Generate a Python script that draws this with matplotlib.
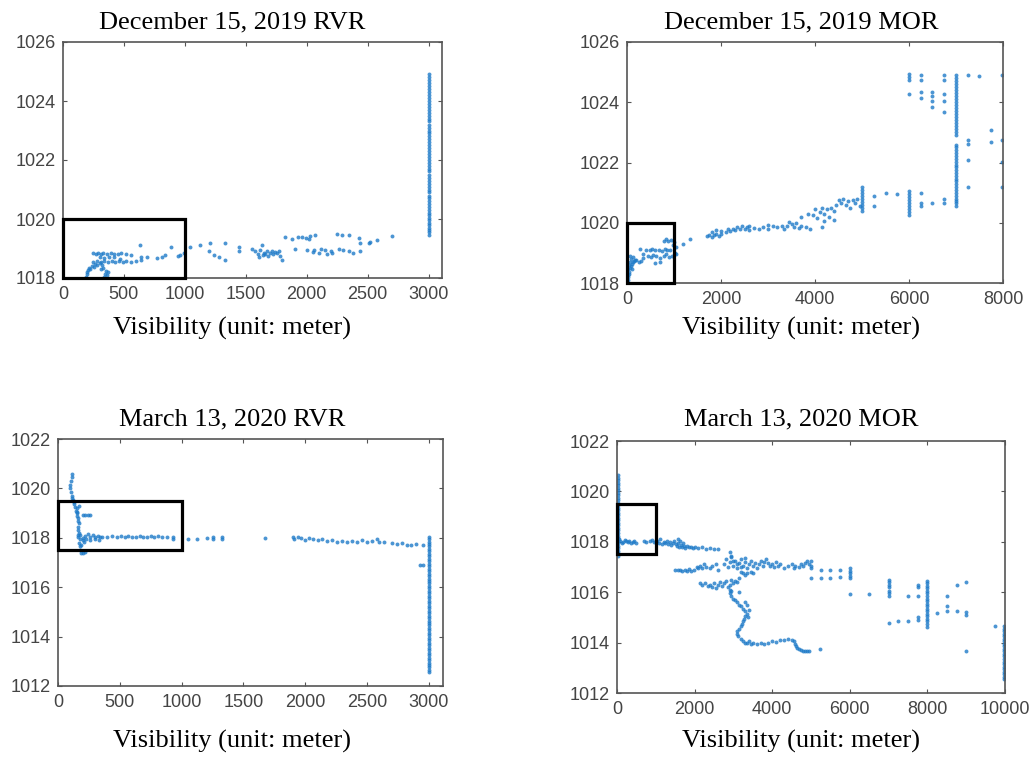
"""
 Pressure vs visibility scatter, RVR and MOR for two fog days
"""
import numpy as np
import matplotlib
matplotlib.use('Agg')
import matplotlib.pyplot as plt
from matplotlib.patches import Rectangle

# ---------------- data ----------------
# December 15, 2019 RVR
dec_rvr_x = [190, 195, 200, 205, 215, 225, 240, 255, 265, 280, 300, 320, 340, 345, 350, 360, 370, 330, 310,
             250, 280, 310, 340, 370, 400, 430, 460, 490, 520, 560, 600, 640,
             250, 270, 290, 310, 330, 360, 390, 420, 450, 480, 520, 560,
             300, 340, 380, 420, 470,
             633, 640, 688, 770, 810, 838, 888, 940, 962, 990, 1044, 1126, 1195, 1208, 1240, 1277, 1332, 1332,
             1441, 1441, 1551, 1578, 1605, 1633, 1650, 1674, 1700, 1715, 1740, 1770, 1797, 1825, 1880, 1907,
             1962, 2016, 2071, 2058, 2099, 2153, 2170, 2208, 2249, 2290, 2345, 2263, 2345, 2427, 2441, 2441,
             2510, 2523, 2578, 2701,
             1600, 1620, 1640, 1660, 1680, 1720, 1760, 1780,
             1930, 1990, 2030, 2000, 2050, 2120, 2200, 2300, 2380]
dec_rvr_y = [1018.05, 1018.12, 1018.2, 1018.28, 1018.35, 1018.3, 1018.42, 1018.38, 1018.48, 1018.45, 1018.5,
             1018.45, 1018.05, 1018.15, 1018.25, 1018.1, 1018.2, 1018.35, 1018.3,
             1018.55, 1018.58, 1018.55, 1018.57, 1018.55, 1018.56, 1018.55, 1018.57, 1018.55, 1018.56, 1018.55,
             1018.58, 1018.6,
             1018.85, 1018.82, 1018.86, 1018.8, 1018.84, 1018.82, 1018.86, 1018.8, 1018.83, 1018.85, 1018.8,
             1018.78,
             1018.7, 1018.68, 1018.72, 1018.7, 1018.66,
             1019.12, 1018.72, 1018.72, 1018.67, 1018.7, 1018.78, 1019.04, 1018.74, 1018.78, 1018.85, 1019.04,
             1019.12, 1018.9, 1019.17, 1018.78, 1018.72, 1019.17, 1018.6,
             1019.06, 1018.9, 1019.0, 1018.9, 1018.72, 1019.12, 1018.85, 1018.9, 1018.86, 1018.9, 1018.88,
             1018.9, 1018.62, 1019.4, 1019.31, 1018.97,
             1019.4, 1019.31, 1019.46, 1018.95, 1018.84, 1018.95, 1018.82, 1018.84, 1019.49, 1019.46, 1019.46,
             1018.97, 1018.9, 1019.34, 1019.17, 1018.9,
             1019.17, 1019.23, 1019.28, 1019.42,
             1018.8, 1018.95, 1018.78, 1018.82, 1018.76, 1018.8, 1018.84, 1018.75,
             1019.38, 1019.35, 1019.42, 1018.95, 1018.88, 1019.0, 1018.92, 1018.95, 1018.86]
dec_rvr_col_y = [1019.45, 1019.55, 1019.62, 1019.7, 1019.8, 1019.88, 1019.95, 1020.05, 1020.15, 1020.22,
                 1020.3, 1020.42, 1020.5, 1020.6, 1020.7, 1020.78, 1020.9, 1021.0, 1021.1, 1021.2, 1021.3,
                 1021.4, 1021.5, 1021.62, 1021.7, 1021.8, 1021.9, 1022.0, 1022.1, 1022.2, 1022.32, 1022.4,
                 1022.5, 1022.6, 1022.72, 1022.8, 1022.9, 1023.0, 1023.1, 1023.2, 1023.32, 1023.4, 1023.5,
                 1023.6, 1023.7, 1023.8, 1023.9, 1024.0, 1024.1, 1024.2, 1024.3, 1024.4, 1024.5, 1024.6,
                 1024.7, 1024.8, 1024.9]

# December 15, 2019 MOR
dec_mor_x = [20, 30, 40, 50, 30, 60, 80, 40, 100, 60, 120, 150, 80, 180, 200, 250, 300, 350, 130, 60, 20, 10, 100,
             280, 400, 480, 540, 600, 680, 750, 800, 860, 920,
             350, 450, 500, 550, 620, 700, 780, 830, 900, 950, 700, 600,
             780, 820, 880, 940, 1000, 1050, 980, 1020, 1050, 1200, 1340,
             1700, 1750, 1800, 1850, 1900, 1950, 2000, 1800, 1900, 2000, 2100, 2150, 2200, 2250, 2300, 2350,
             2400, 2450, 2500, 2550, 2600, 2700, 2800, 2900, 3000, 3100, 3200, 3300, 3400, 3500, 3550, 3600,
             3650, 3700, 3800, 3900, 2600, 3000, 3350, 3450,
             3700, 3850, 3950, 4000, 4050, 4100, 4150, 4200, 4250, 4300, 4350, 4400, 4450, 4500, 4550, 4600,
             4650, 4700, 4750, 4800, 4850, 4900, 4950, 4400, 4200, 4150,
             5000, 5000, 5000, 5000, 5000, 5000, 5000, 5000, 5000,
             5250, 5250, 5500, 5750,
             6000, 6000, 6000, 6000, 6000, 6000, 6000, 6000, 6000,
             6250, 6250, 6250, 6500, 6750, 6750,
             7250, 7250, 7250, 7250, 7250, 7750, 7750, 7975, 7975, 7975, 7975,
             6000, 6000, 6000, 6250, 6250, 6750, 6750, 7500,
             6000, 6250, 6250, 6500, 6500, 6500, 6500, 6750, 6750, 6750]
dec_mor_y = [1018.1, 1018.2, 1018.3, 1018.35, 1018.45, 1018.5, 1018.55, 1018.6, 1018.62, 1018.7, 1018.7, 1018.72,
             1018.8, 1018.78, 1018.75, 1018.7, 1018.72, 1018.82, 1018.85, 1018.9, 1018.25, 1018.05, 1018.45,
             1019.12, 1019.08, 1019.1, 1019.12, 1019.1, 1019.1, 1019.05, 1019.12, 1019.08, 1019.1,
             1018.95, 1018.9, 1018.85, 1018.92, 1018.88, 1018.82, 1018.9, 1018.95, 1018.85, 1018.9, 1018.7,
             1018.65,
             1019.4, 1019.45, 1019.38, 1019.42, 1019.35, 1019.2, 1019.25, 1019.0, 1018.95, 1019.3, 1019.45,
             1019.55, 1019.6, 1019.52, 1019.58, 1019.62, 1019.55, 1019.62, 1019.7, 1019.75, 1019.72, 1019.68,
             1019.78, 1019.72, 1019.8, 1019.75, 1019.85, 1019.78, 1019.9, 1019.8, 1019.85, 1019.75, 1019.82,
             1019.78, 1019.85, 1019.8, 1019.88, 1019.85, 1019.9, 1019.88, 1019.95, 1019.85, 1019.98, 1019.82,
             1019.9, 1019.85, 1019.78, 1019.9, 1019.92, 1019.8, 1020.02,
             1020.2, 1020.3, 1020.25, 1020.45, 1020.15, 1020.35, 1020.5, 1020.3, 1020.45, 1020.2, 1020.5,
             1020.38, 1020.58, 1020.75, 1020.65, 1020.78, 1020.6, 1020.72, 1020.5, 1020.75, 1020.65, 1020.8,
             1020.55, 1020.1, 1020.05, 1019.85,
             1020.4, 1020.5, 1020.6, 1020.7, 1020.8, 1020.9, 1021.0, 1021.1, 1021.2,
             1020.89, 1020.57, 1021.0, 1020.95,
             1020.25, 1020.35, 1020.45, 1020.55, 1020.65, 1020.75, 1020.85, 1020.95, 1021.05,
             1020.98, 1020.64, 1020.57, 1020.67, 1020.78, 1020.64,
             1024.9, 1022.75, 1022.63, 1022.08, 1021.2, 1023.08, 1022.69, 1024.9, 1022.75, 1022.03, 1021.2,
             1024.95, 1024.85, 1024.75, 1024.9, 1024.75, 1024.9, 1024.75, 1024.88,
             1024.29, 1024.35, 1024.15, 1024.35, 1024.2, 1024.05, 1023.85, 1024.29, 1024.04, 1023.69]
dec_mor_col_y = [1020.55, 1020.65, 1020.72, 1020.8, 1020.9, 1021.0, 1021.1, 1021.18, 1021.28, 1021.38,
                 1021.45, 1021.55, 1021.65, 1021.75, 1021.85, 1021.92, 1022.02, 1022.1, 1022.2, 1022.3,
                 1022.4, 1022.5, 1022.58, 1022.92, 1023.0, 1023.1, 1023.2, 1023.3, 1023.4, 1023.5, 1023.6,
                 1023.7, 1023.8, 1023.9, 1024.0, 1024.1, 1024.2, 1024.3, 1024.4, 1024.5, 1024.6, 1024.7,
                 1024.8, 1024.9]

# March 13, 2020 RVR
mar_rvr_x = [116, 112, 105, 100, 98, 102, 110, 115, 125, 130, 140, 145, 150, 155, 160, 165, 170, 160, 165, 170,
             160, 175, 170, 180, 175, 185, 200, 215, 190, 210,
             150, 130, 120, 155, 170,
             200, 220, 240, 260,
             160, 180, 200, 220, 240, 260, 280, 300, 320, 340, 360, 400, 440, 480, 510, 540, 570, 600, 630,
             660, 690, 720, 750, 780, 810, 840, 880, 930, 930,
             200, 230, 260, 300, 330,
             1054, 1122, 1203, 1257, 1257, 1324, 1324, 1676,
             1905, 1910, 1940, 1970, 2000, 2030, 2060, 2100, 2140, 2180, 2220, 2260, 2300, 2340, 2380, 2420,
             2460, 2500, 2540, 2580, 2600, 2640, 2700, 2740, 2780, 2820, 2860, 2900, 2950,
             2930, 2950]
mar_rvr_y = [1020.6, 1020.45, 1020.3, 1020.15, 1020.0, 1019.85, 1019.7, 1019.6, 1019.5, 1019.35, 1019.25,
             1019.1, 1019.0, 1018.9, 1018.8, 1018.7, 1018.6, 1018.45, 1018.3, 1018.2, 1018.1, 1017.95, 1017.8,
             1017.65, 1017.5, 1017.4, 1017.38, 1017.42, 1017.7, 1017.85,
             1019.2, 1019.45, 1019.55, 1019.05, 1019.3,
             1018.92, 1018.93, 1018.92, 1018.92,
             1018.05, 1018.1, 1018.0, 1018.08, 1018.15, 1018.05, 1018.1, 1018.02, 1018.08, 1018.05, 1018.05,
             1018.05, 1018.08, 1018.02, 1018.06, 1018.04, 1018.08, 1018.02, 1018.05, 1018.07, 1018.02,
             1018.05, 1018.08, 1018.04, 1018.06, 1018.02, 1018.05, 1018.05, 1017.95,
             1017.9, 1017.95, 1017.92, 1017.95, 1017.92,
             1017.95, 1017.95, 1018.0, 1018.05, 1017.95, 1018.05, 1017.95, 1018.0,
             1018.05, 1017.95, 1018.05, 1018.0, 1017.92, 1017.98, 1017.95, 1017.9, 1017.95, 1017.88, 1017.9,
             1017.85, 1017.88, 1017.85, 1017.88, 1017.85, 1017.9, 1017.85, 1017.88, 1017.95, 1017.85,
             1017.82, 1017.8, 1017.75, 1017.78, 1017.72, 1017.7, 1017.75, 1017.7,
             1016.9, 1016.9]
mar_rvr_col_y = [1012.55, 1012.65, 1012.75, 1012.85, 1012.95, 1013.05, 1013.15, 1013.25, 1013.35, 1013.45,
                 1013.55, 1013.65, 1013.75, 1013.85, 1013.95, 1014.05, 1014.15, 1014.25, 1014.35, 1014.45,
                 1014.55, 1014.65, 1014.75, 1014.85, 1014.95, 1015.05, 1015.15, 1015.25, 1015.35, 1015.45,
                 1015.55, 1015.65, 1015.75, 1015.85, 1015.95, 1016.05, 1016.15, 1016.25, 1016.35, 1016.45,
                 1016.55, 1016.65, 1016.75, 1016.85, 1016.95, 1017.05, 1017.15, 1017.25, 1017.35, 1017.45,
                 1017.55, 1017.65, 1017.75, 1017.85, 1017.95, 1018.05]

# March 13, 2020 MOR
mar_mor_x = [40, 80, 120, 160, 200, 240, 280, 320, 360, 400, 440, 500, 700, 760, 850, 900, 950, 1000, 1040, 1080,
             1120, 1160, 1200, 1240, 1280, 1320, 1360, 1400, 1440, 1480, 1520, 1550, 1580, 1600, 1640, 1680,
             1720, 1760, 1800, 1850, 1900, 1950, 2000, 2100, 2200, 2300, 2400, 2500, 2600, 1580, 1620, 1700,
             1500, 1560, 1620, 1680, 1740, 1800, 1860, 1920, 1980, 2050, 2100, 2150, 2200, 2250, 2300, 2400,
             2450, 2550, 2600,
             2750, 2800, 2850, 2900, 2950, 3000, 3050, 3100, 3150, 3200, 3250, 3300, 3350, 3400, 3450, 3500,
             3550, 3600, 3650, 3700, 3750, 3800, 3850, 3900, 3950, 3100, 3200, 3300, 3000, 2900, 2950,
             4000, 4050, 4100, 4150, 4200, 4300, 4400, 4500, 4550, 4600, 4700, 4750, 4800, 4850, 4900, 4950,
             3200, 3250, 3300, 3350, 3450, 3500,
             2150, 2200, 2280, 2350, 2400, 2450, 2500, 2550, 2600, 2650, 2700, 2750, 2800, 2850, 2900, 2950,
             3000, 3050, 3100, 3150, 2900, 2950,
             2900, 2950, 3000, 3050, 3100, 3150, 3200, 3250, 3300, 3350, 3300, 3280, 3250, 3230, 3200, 3150,
             3100, 3080, 3120, 3200, 3250, 3300, 3350, 3400, 3450, 3500, 3600, 3700, 3800, 3900, 4000, 4100,
             4200, 4300, 4400, 4500, 4550, 4600, 4620, 4650, 4700, 4750, 4800, 4850, 4900, 4950, 5230, 3350,
             3300, 3150, 3400, 3380,
             5000, 5000, 5000, 5000, 5250, 5250, 5500, 5500, 5750, 5750,
             6000, 6000, 6000, 6000, 6000, 6000, 6500,
             7000, 7000, 7000, 7000, 7000, 7000, 7000, 7000,
             7250, 7500, 7500, 7750, 7750, 7750, 7750, 7750,
             8000, 8000, 8000, 8000, 8000, 8000, 8000, 8000, 8000, 8000, 8000, 8000, 8000, 8000, 8000, 8000,
             8000, 8000, 8000,
             8250, 8500, 8500, 8500, 8750, 8750, 9000, 9000, 9000, 9000, 9750]
mar_mor_y = [1018.1, 1018.05, 1017.95, 1018.0, 1018.08, 1018.02, 1017.98, 1018.05, 1017.95, 1018.0, 1018.05,
             1017.95, 1018.05, 1018.0, 1018.02, 1018.08, 1017.98, 1018.0, 1018.05, 1017.95, 1018.1, 1017.92,
             1018.0, 1017.95, 1018.05, 1017.9, 1017.98, 1017.88, 1017.95, 1018.05, 1017.9, 1017.82, 1017.95,
             1017.8, 1017.88, 1017.78, 1017.85, 1017.75, 1017.82, 1017.78, 1017.8, 1017.75, 1017.78, 1017.75,
             1017.78, 1017.72, 1017.75, 1017.7, 1017.72, 1018.1, 1018.05, 1017.95,
             1016.9, 1016.88, 1016.9, 1016.85, 1016.88, 1016.85, 1016.92, 1016.85, 1016.9, 1017.0, 1016.95,
             1017.05, 1016.95, 1017.1, 1017.0, 1016.95, 1017.05, 1017.1, 1016.9,
             1017.1, 1017.3, 1017.0, 1017.2, 1017.4, 1017.05, 1017.25, 1016.95, 1017.15, 1017.3, 1017.05,
             1017.2, 1016.98, 1017.1, 1017.25, 1017.05, 1017.15, 1016.98, 1017.1, 1017.25, 1017.05, 1017.2,
             1017.3, 1017.15, 1017.05, 1017.12, 1017.0, 1017.35, 1017.25, 1017.6, 1017.45,
             1017.1, 1017.0, 1017.2, 1017.05, 1017.1, 1016.98, 1017.05, 1017.1, 1016.98, 1017.05, 1017.0,
             1017.1, 1017.05, 1017.15, 1017.25, 1017.1,
             1016.8, 1016.75, 1016.7, 1016.78, 1016.8, 1016.75,
             1016.35, 1016.3, 1016.35, 1016.25, 1016.3, 1016.2, 1016.35, 1016.15, 1016.3, 1016.4, 1016.25,
             1016.35, 1016.45, 1016.2, 1016.3, 1016.5, 1016.35, 1016.45, 1016.4, 1016.55, 1016.1, 1016.05,
             1015.95, 1015.85, 1015.75, 1015.7, 1015.6, 1015.5, 1015.45, 1015.35, 1015.25, 1015.15, 1015.05,
             1014.95, 1014.85, 1014.75, 1014.65, 1014.55, 1014.45, 1014.35, 1014.25, 1014.15, 1014.05, 1014.0,
             1013.98, 1014.05, 1013.95, 1013.98, 1013.95, 1014.0, 1013.95, 1014.0, 1014.05, 1014.02, 1014.1,
             1014.12, 1014.15, 1014.12, 1014.05, 1013.95, 1013.85, 1013.8, 1013.75, 1013.7, 1013.68, 1013.65,
             1013.65, 1013.65, 1013.74, 1015.5, 1015.6, 1016.0, 1015.3, 1015.0,
             1017.23, 1017.05, 1016.97, 1016.57, 1016.87, 1016.57, 1016.87, 1016.57, 1016.9, 1016.62,
             1016.97, 1016.85, 1016.75, 1016.65, 1016.55, 1015.94, 1015.94,
             1016.5, 1016.4, 1016.3, 1016.2, 1016.05, 1015.95, 1015.85, 1014.78,
             1014.84, 1014.84, 1015.86, 1016.3, 1016.2, 1015.86, 1015.0, 1014.9,
             1016.45, 1016.35, 1016.25, 1016.15, 1016.05, 1015.95, 1015.85, 1015.75, 1015.65, 1015.55, 1015.45,
             1015.35, 1015.25, 1015.15, 1015.05, 1014.95, 1014.85, 1014.75, 1014.6,
             1015.17, 1015.86, 1015.44, 1015.24, 1016.3, 1015.24, 1016.4, 1015.2, 1015.1, 1013.65, 1014.64]
mar_mor_col_low_y = [1017.45, 1017.55, 1017.65, 1017.75, 1017.85, 1017.95, 1018.05, 1018.15, 1018.25, 1018.35,
                     1018.45, 1018.55, 1018.65, 1018.75, 1018.85, 1018.95, 1019.05, 1019.15, 1019.25, 1019.35,
                     1019.45, 1019.55, 1019.65, 1019.75, 1019.85, 1019.95, 1020.05, 1020.15, 1020.25, 1020.35,
                     1020.45, 1020.55, 1020.65]
mar_mor_col_high_y = [1012.55, 1012.65, 1012.75, 1012.85, 1012.95, 1013.05, 1013.15, 1013.25, 1013.35,
                      1013.45, 1013.55, 1013.65, 1013.75, 1013.85, 1013.95, 1014.05, 1014.15, 1014.25,
                      1014.35, 1014.45, 1014.55, 1014.65]

titles = ['December 15, 2019 RVR', 'December 15, 2019 MOR', 'March 13, 2020 RVR', 'March 13, 2020 MOR']
xlabel = 'Visibility (unit: meter)'

BLUE = '#1f7bc8'
SERIF = ['Liberation Serif', 'DejaVu Serif']
SANS = ['Liberation Sans', 'DejaVu Sans']


def drawPanel(ax, xs, ys, xlim, ylim, xticks, yticks, box):
    ax.scatter(xs, ys, s=8, color=BLUE, linewidths=0, alpha=0.8, zorder=2)
    ax.set_xlim(*xlim)
    ax.set_ylim(*ylim)
    ax.set_xticks(xticks)
    ax.set_yticks(yticks)
    ax.tick_params(direction='in', top=True, right=True, length=3, width=0.8, color='#555555',
                   labelcolor='#444444', labelsize=13)
    ax.tick_params(axis='x', pad=6)
    ax.tick_params(axis='y', pad=5)
    for lab in ax.get_xticklabels() + ax.get_yticklabels():
        lab.set_family(SANS)
    for sp in ax.spines.values():
        sp.set_color('#555555')
        sp.set_linewidth(1.2)
    # black box marking the low visibility zone
    x0, y0, w, h = box
    ax.add_patch(Rectangle((x0, y0), w, h, fill=False, ec='black', lw=2.3, zorder=5, clip_on=False))


if __name__ == '__main__':
    W, H = 1035, 758
    fig = plt.figure(figsize=(W / 100, H / 100), dpi=100)

    def axRect(l, r, t, b):
        return [l / W, 1 - b / H, (r - l) / W, (b - t) / H]

    ax1 = fig.add_axes(axRect(63, 442, 42, 278))
    ax2 = fig.add_axes(axRect(627, 1003, 42, 283))
    ax3 = fig.add_axes(axRect(58, 443, 439, 686))
    ax4 = fig.add_axes(axRect(617, 1005, 441, 693))

    drawPanel(ax1, dec_rvr_x + [3000] * len(dec_rvr_col_y), dec_rvr_y + dec_rvr_col_y,
              (0, 3110), (1018, 1026), range(0, 3001, 500), range(1018, 1027, 2), (0, 1018, 1000, 2))
    drawPanel(ax2, dec_mor_x + [7000] * len(dec_mor_col_y), dec_mor_y + dec_mor_col_y,
              (0, 8000), (1018, 1026), range(0, 8001, 2000), range(1018, 1027, 2), (0, 1018, 1000, 2))
    drawPanel(ax3, mar_rvr_x + [3000] * len(mar_rvr_col_y), mar_rvr_y + mar_rvr_col_y,
              (0, 3115), (1012, 1022), range(0, 3001, 500), range(1012, 1023, 2), (0, 1017.5, 1000, 2))
    drawPanel(ax4, mar_mor_x + [30] * len(mar_mor_col_low_y) + [9975] * len(mar_mor_col_high_y),
              mar_mor_y + mar_mor_col_low_y + mar_mor_col_high_y,
              (0, 10000), (1012, 1022), range(0, 10001, 2000), range(1012, 1023, 2), (0, 1017.5, 1000, 2))

    # titles and axis labels sit at fixed spots, as in the paper figure
    spots = [(232, 28, 335), (801, 28, 335), (232, 425, 748), (801, 425, 748)]
    for (cx, ty, ly), t in zip(spots, titles):
        fig.text(cx / W, 1 - ty / H, t, ha='center', va='baseline', fontsize=19, family=SERIF)
        fig.text(cx / W, 1 - ly / H, xlabel, ha='center', va='baseline', fontsize=19, family=SERIF)

    fig.savefig('out.png', dpi=100)
